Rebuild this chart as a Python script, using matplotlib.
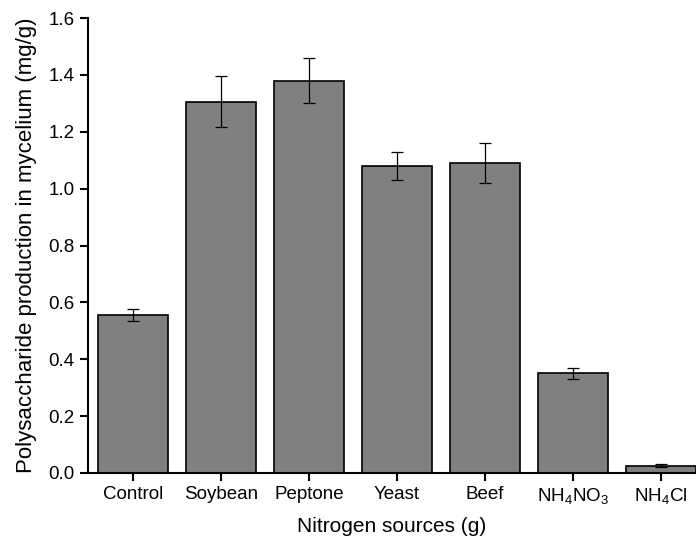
import matplotlib
matplotlib.use("Agg")
import matplotlib.pyplot as plt
import numpy as np

sources = ["Control", "Soybean", "Peptone", "Yeast", "Beef", "NH$_4$NO$_3$", "NH$_4$Cl"]
production = [0.555, 1.305, 1.38, 1.08, 1.09, 0.35, 0.025]
errors = [0.02, 0.09, 0.08, 0.05, 0.07, 0.02, 0.005]

plt.rcParams['font.family'] = ['Liberation Sans', 'DejaVu Sans']
plt.rcParams['mathtext.default'] = 'regular'

fig = plt.figure(figsize=(6.96, 5.46), dpi=100)
ax = fig.add_axes([0.1264, 0.1337, 0.8736, 0.8333])

x = np.arange(len(sources))
ax.bar(x, production, width=0.8, color="#808080", edgecolor="black", linewidth=1.2,
       yerr=errors, capsize=4, error_kw=dict(elinewidth=0.9, capthick=0.9, ecolor="black"))

ax.set_xlim(-0.51, 6.4)
ax.set_ylim(0, 1.6)
ax.set_yticks(np.arange(0, 1.61, 0.2))
ax.set_yticklabels([f"{v:.1f}" for v in np.arange(0, 1.61, 0.2)])
ax.set_xticks(x)
ax.set_xticklabels(sources)
ax.tick_params(direction="out", length=6, width=1.5, labelsize=13.5)
ax.spines["top"].set_visible(False)
ax.spines["right"].set_visible(False)
ax.spines["left"].set_linewidth(1.5)
ax.spines["bottom"].set_linewidth(1.5)

ax.set_xlabel("Nitrogen sources (g)", fontsize=15, labelpad=8)
ax.set_ylabel("Polysaccharide production in mycelium (mg/g)", fontsize=16, labelpad=8)

plt.savefig("out.png", dpi=100)
